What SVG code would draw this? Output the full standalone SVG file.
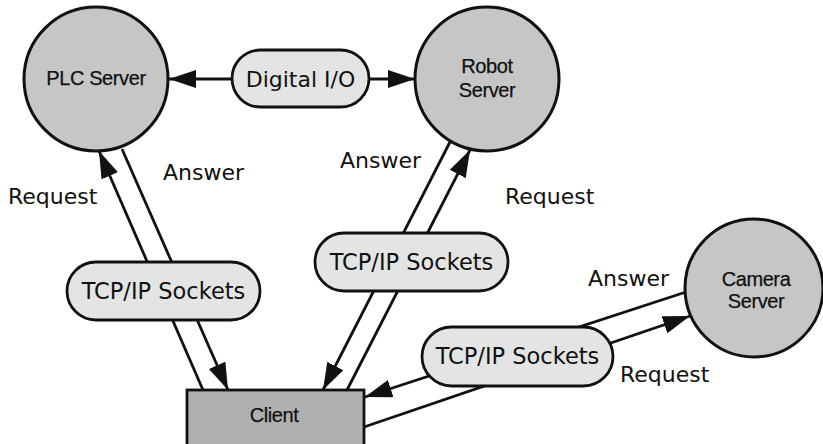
<svg xmlns="http://www.w3.org/2000/svg" width="823" height="444" viewBox="0 0 823 444">
<defs>
<marker id="ah" markerUnits="userSpaceOnUse" markerWidth="30" markerHeight="20" refX="27" refY="9" orient="auto">
<path d="M0,0 L27,9 L0,18 z" fill="#111"/>
</marker>
<style>
.ln{stroke:#111;stroke-width:2.8;fill:none}
.srv{fill:#c6c6c6;stroke:#111;stroke-width:3}
.pill{fill:#e4e4e4;stroke:#111;stroke-width:2.8}
.cli{fill:#b0b0b0;stroke:#111;stroke-width:2.8}
.lbl{font-family:"DejaVu Sans",Verdana,sans-serif;font-size:22px;fill:#111}
.ptx{font-family:"DejaVu Sans",Verdana,sans-serif;font-size:22.5px;fill:#111;text-anchor:middle}
.ntx{font-family:"Liberation Sans",Arial,sans-serif;font-size:20px;fill:#111;stroke:#111;stroke-width:0.25;text-anchor:middle;letter-spacing:-0.4px}
</style>
</defs>
<rect width="823" height="444" fill="#fff"/>
<g id="connectors">
<line class="ln" x1="232" y1="79" x2="169" y2="79" marker-end="url(#ah)"/>
<line class="ln" x1="368" y1="79" x2="415" y2="79" marker-end="url(#ah)"/>
<line class="ln" x1="203" y1="390" x2="99" y2="151" marker-end="url(#ah)"/>
<line class="ln" x1="122" y1="149" x2="228" y2="390" marker-end="url(#ah)"/>
<line class="ln" x1="450" y1="142" x2="323" y2="390" marker-end="url(#ah)"/>
<line class="ln" x1="347" y1="390" x2="470" y2="150" marker-end="url(#ah)"/>
<line class="ln" x1="686" y1="292" x2="365" y2="397" marker-end="url(#ah)"/>
<line class="ln" x1="364" y1="427" x2="690" y2="316" marker-end="url(#ah)"/>
</g>
<g id="plc">
<circle class="srv" cx="96" cy="79" r="72"/>
<text class="ntx" x="96" y="85">PLC Server</text>
</g>
<g id="robot">
<circle class="srv" cx="487" cy="79" r="72"/>
<text class="ntx" x="487" y="73">Robot</text>
<text class="ntx" x="487" y="97">Server</text>
</g>
<g id="camera">
<circle class="srv" cx="754" cy="288" r="69"/>
<text class="ntx" x="756" y="286">Camera</text>
<text class="ntx" x="756" y="308">Server</text>
</g>
<g id="client">
<rect class="cli" x="187" y="390" width="177" height="62"/>
<text class="ntx" x="274" y="422">Client</text>
</g>
<g id="digital-io">
<rect class="pill" x="232" y="50" width="137" height="57" rx="28.5"/>
<text class="ptx" x="300.5" y="87" style="font-size:22px">Digital I/O</text>
</g>
<g id="tcp-left">
<rect class="pill" x="67" y="262" width="193" height="58" rx="29"/>
<text class="ptx" x="163.5" y="299">TCP/IP Sockets</text>
</g>
<g id="tcp-mid">
<rect class="pill" x="315" y="233" width="193" height="58" rx="29"/>
<text class="ptx" x="411.5" y="270">TCP/IP Sockets</text>
</g>
<g id="tcp-right">
<rect class="pill" x="422" y="327" width="191" height="59" rx="29.5"/>
<text class="ptx" x="517.5" y="364">TCP/IP Sockets</text>
</g>
<g id="labels">
<text class="lbl" x="8" y="204">Request</text>
<text class="lbl" x="163" y="180">Answer</text>
<text class="lbl" x="340" y="168">Answer</text>
<text class="lbl" x="505" y="204">Request</text>
<text class="lbl" x="588" y="286">Answer</text>
<text class="lbl" x="620" y="382">Request</text>
</g>
</svg>
